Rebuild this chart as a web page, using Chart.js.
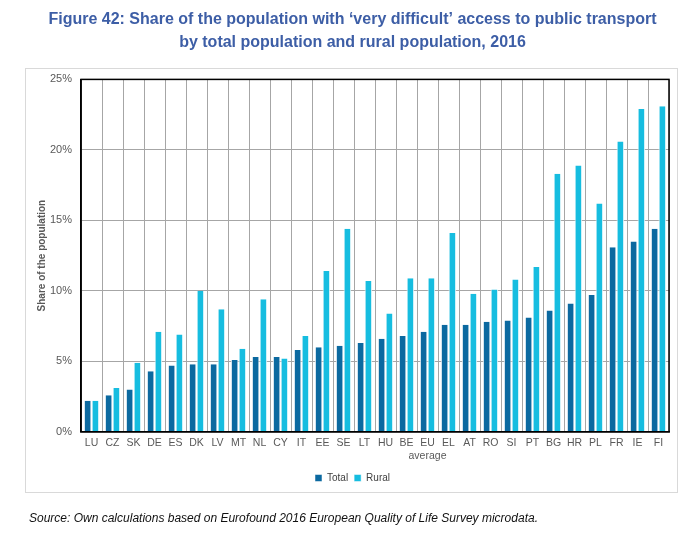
<!DOCTYPE html>
<html>
<head>
<meta charset="utf-8">
<script src="https://cdn.jsdelivr.net/npm/chart.js@4"></script>
<style>
  body { margin: 0; background: #fff; }
  #wrap { width: 700px; height: 534px; }
</style>
</head>
<body>
<div id="wrap"><canvas id="accessChart"></canvas></div>
<script>
const countries = ['LU', 'CZ', 'SK', 'DE', 'ES', 'DK', 'LV', 'MT', 'NL', 'CY', 'IT', 'EE', 'SE', 'LT',
  'HU', 'BE', ['EU', 'average'], 'EL', 'AT', 'RO', 'SI', 'PT', 'BG', 'HR', 'PL', 'FR', 'IE', 'FI'];

const totalShare = [2.2, 2.6, 3.0, 4.3, 4.7, 4.8, 4.8, 5.1, 5.3, 5.3, 5.8, 6.0, 6.1, 6.3,
  6.6, 6.8, 7.1, 7.6, 7.6, 7.8, 7.9, 8.1, 8.6, 9.1, 9.7, 13.1, 13.5, 14.4];
const ruralShare = [2.2, 3.1, 4.9, 7.1, 6.9, 10.0, 8.7, 5.9, 9.4, 5.2, 6.8, 11.4, 14.4, 10.7,
  8.4, 10.9, 10.9, 14.1, 9.8, 10.1, 10.8, 11.7, 18.3, 18.9, 16.2, 20.6, 22.9, 23.1];

const yTicks = [0, 5, 10, 15, 20, 25];

const titleLines = [
  'Figure 42: Share of the population with \u2018very difficult\u2019 access to public transport',
  'by total population and rural population, 2016'
];
const sourceText = 'Source: Own calculations based on Eurofound 2016 European Quality of Life Survey microdata.';

// frame round the chart + black border of the plot area + source line
const extras = {
  id: 'extras',
  beforeDraw(chart) {
    const c = chart.ctx;
    c.save();
    c.fillStyle = '#fff';
    c.fillRect(0, 0, chart.width, chart.height);
    c.strokeStyle = '#d9d9d9';
    c.lineWidth = 1;
    c.strokeRect(25.5, 68.5, 652, 424);
    c.restore();
  },
  afterDraw(chart) {
    const a = chart.chartArea;
    const c = chart.ctx;
    c.save();
    c.strokeStyle = '#000';
    c.lineWidth = 1.5;
    c.strokeRect(a.left, a.top, a.right - a.left, a.bottom - a.top);
    c.fillStyle = '#111';
    c.font = 'italic 12px "Liberation Sans", Arial, sans-serif';
    c.textBaseline = 'middle';
    c.fillText(sourceText, 29, 519);
    c.restore();
  }
};

const ctx = document.getElementById('accessChart');
const accessChart = new Chart(ctx, {
  type: 'bar',
  data: {
    labels: countries,
    datasets: [
      {
        label: 'Total',
        data: totalShare,
        backgroundColor: '#0b69a0',
        borderColor: '#ffffff',
        borderWidth: { left: 1, right: 1 },
        categoryPercentage: 0.74,
        barPercentage: 0.98,
      },
      {
        label: 'Rural',
        data: ruralShare,
        backgroundColor: '#16bde0',
        borderColor: '#ffffff',
        borderWidth: { left: 1, right: 1 },
        categoryPercentage: 0.74,
        barPercentage: 0.98,
      },
    ],
  },
  options: {
    responsive: true,
    maintainAspectRatio: false,
    animation: false,
    layout: {
      padding: { left: 36, right: 31, top: 0, bottom: 41 },
    },
    plugins: {
      title: {
        display: true,
        text: titleLines,
        color: '#3d5ea6',
        font: { family: '"Liberation Sans", Arial, sans-serif', size: 16, weight: 'bold', lineHeight: 1.45 },
        padding: { top: 8, bottom: 25 },
      },
      legend: {
        position: 'bottom',
        labels: {
          boxWidth: 7,
          boxHeight: 7,
          padding: 6,
          color: '#404040',
          font: { family: '"Liberation Sans", Arial, sans-serif', size: 10 },
        },
      },
      tooltip: { enabled: false },
    },
    scales: {
      x: {
        grid: { color: '#a6a6a6', lineWidth: 1, offset: true, drawTicks: false },
        border: { color: '#000', width: 1.5 },
        ticks: {
          color: '#595959',
          maxRotation: 0,
          autoSkip: false,
          padding: 5,
          font: { family: '"Liberation Sans", Arial, sans-serif', size: 10.5 },
        },
      },
      y: {
        min: 0,
        max: 25,
        afterBuildTicks(scale) {
          scale.ticks = yTicks.map(v => ({ value: v }));
        },
        grid: { color: '#a6a6a6', lineWidth: 1, drawTicks: false },
        border: { color: '#000', width: 1.5 },
        title: {
          display: true,
          text: 'Share of the population',
          color: '#595959',
          font: { family: '"Liberation Sans", Arial, sans-serif', size: 10, weight: 'bold' },
          padding: { top: 0, bottom: -7 },
        },
        ticks: {
          color: '#595959',
          padding: 9,
          callback: v => v + '%',
          font: { family: '"Liberation Sans", Arial, sans-serif', size: 11 },
        },
      },
    },
  },
  plugins: [extras],
});
</script>
</body>
</html>
